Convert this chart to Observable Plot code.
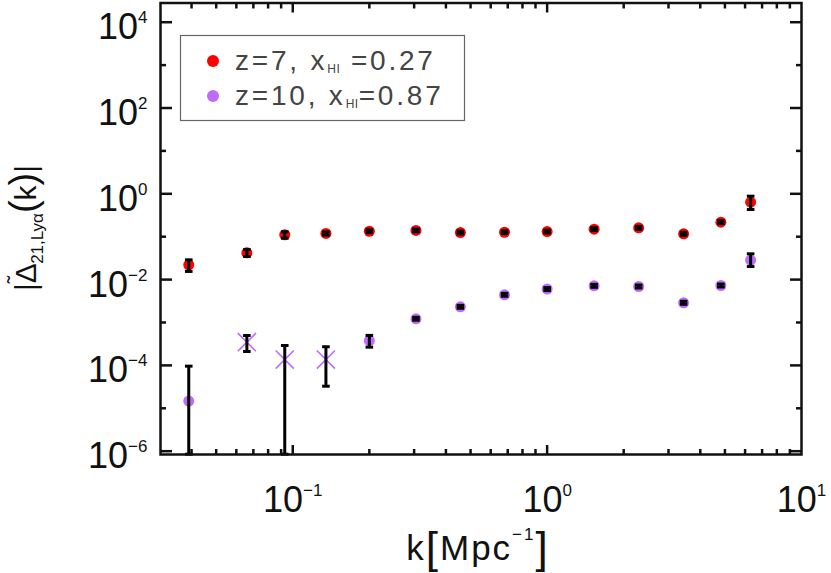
<!DOCTYPE html>
<html><head><meta charset="utf-8">
<script src="https://cdn.jsdelivr.net/npm/d3@7"></script>
<script src="https://cdn.jsdelivr.net/npm/@observablehq/plot@0.6"></script>
<style>body{margin:0;background:#fff} #chart svg{display:block}</style>
</head><body><div id="chart"></div>
<script>
// k bins [Mpc^-1]
const kValues = [0.039, 0.066, 0.093, 0.135, 0.20, 0.305, 0.456, 0.68, 1.0, 1.53, 2.29, 3.44, 4.82, 6.31];
// z=7, x_HI=0.27
const redValues = [0.0221, 0.042, 0.111, 0.119, 0.134, 0.140, 0.125, 0.127, 0.132, 0.150, 0.161, 0.117, 0.218, 0.637];
const redLo     = [0.0155, 0.0345, 0.0923, 0.109, 0.124, 0.130, 0.116, 0.118, 0.122, 0.139, 0.149, 0.108, 0.202, 0.43];
const redHi     = [0.0289, 0.0504, 0.130, 0.129, 0.145, 0.151, 0.135, 0.137, 0.142, 0.162, 0.174, 0.127, 0.236, 0.88];
// z=10, x_HI=0.87
const purpleValues = [1.47e-5, 3.47e-4, 1.37e-4, 1.37e-4, 3.8e-4, 1.22e-3, 2.32e-3, 4.42e-3, 6.0e-3, 7.16e-3, 6.9e-3, 2.88e-3, 7.28e-3, 0.0283];
const purpleLo     = [8.5e-7, 2.11e-4, 8.5e-7, 3.27e-5, 2.66e-4, 1.13e-3, 2.15e-3, 4.09e-3, 5.55e-3, 6.62e-3, 6.38e-3, 2.66e-3, 6.73e-3, 0.0202];
const purpleHi     = [9.6e-5, 4.97e-4, 2.91e-4, 2.72e-4, 5.0e-4, 1.32e-3, 2.51e-3, 4.78e-3, 6.5e-3, 7.75e-3, 7.47e-3, 3.12e-3, 7.88e-3, 0.0399];
const purpleMarker = ["circle", "times", "times", "times", "circle", "circle", "circle", "circle", "circle", "circle", "circle", "circle", "circle", "circle"];

const yTickLabels = [1e-6, 1e-4, 1e-2, 1, 1e2, 1e4];
const yMinorTicks = [1e-5, 1e-3, 1e-1, 10, 1e3];
const xTickLabels = [0.1, 1, 10];
const xMajorTicks = [0.1, 1];
const xMinorTicks = [0.04, 0.05, 0.06, 0.07, 0.08, 0.09, 0.2, 0.3, 0.4, 0.5, 0.6, 0.7, 0.8, 0.9, 2, 3, 4, 5, 6, 7, 8, 9];

const legendItems = [
  {color: "#ff0000", pre: "z=7, x", sub: "HI", post: " =0.27"},
  {color: "#bf6bff", pre: "z=10, x", sub: "HI", post: "=0.87"}
];

const RED = "#ff0000", PURPLE = "#bf6bff";
const red = kValues.map((k, i) => ({k, v: redValues[i], lo: redLo[i], hi: redHi[i]}));
const purple = kValues.map((k, i) => ({k, v: purpleValues[i], lo: purpleLo[i], hi: purpleHi[i], m: purpleMarker[i]}));
const errs = red.concat(purple);

const capSymbol = {draw(ctx, size) { const w = Math.sqrt(size / Math.PI); ctx.moveTo(-w, 0); ctx.lineTo(w, 0); }};
const expFmt = d => "10^" + Math.round(Math.log10(d));

const plot = Plot.plot({
  width: 831, height: 573,
  marginLeft: 160, marginRight: 30, marginTop: 2.5, marginBottom: 119,
  style: {fontFamily: "'Liberation Sans', Arial, sans-serif", fontSize: "36px", color: "#111", background: "white", overflow: "visible"},
  x: {type: "log", domain: [0.0302, 10]},
  y: {type: "log", domain: [8.37e-7, 28050]},
  marks: [
    // tick labels
    Plot.axisY(yTickLabels, {anchor: "left", tickSize: 0, tickPadding: 13, dy: 5.5, tickFormat: expFmt, label: null, fontSize: 36}),
    Plot.axisX(xTickLabels, {anchor: "bottom", tickSize: 0, tickPadding: 32, tickFormat: expFmt, label: null, fontSize: 36}),
    // inward ticks
    Plot.axisY(yTickLabels, {anchor: "left", tickSize: -12, fill: "none", label: null, strokeWidth: 2.5}),
    Plot.axisY(yMinorTicks, {anchor: "left", tickSize: -6, fill: "none", label: null, strokeWidth: 2.5}),
    Plot.axisY(yTickLabels, {anchor: "right", tickSize: -12, fill: "none", label: null, strokeWidth: 2.5}),
    Plot.axisY(yMinorTicks, {anchor: "right", tickSize: -6, fill: "none", label: null, strokeWidth: 2.5}),
    Plot.axisX(xMajorTicks, {anchor: "bottom", tickSize: -9, fill: "none", label: null, strokeWidth: 2.5}),
    Plot.axisX(xMinorTicks, {anchor: "bottom", tickSize: -5, fill: "none", label: null, strokeWidth: 2.5}),
    Plot.axisX(xMajorTicks, {anchor: "top", tickSize: -9, fill: "none", label: null, strokeWidth: 2.5}),
    Plot.axisX(xMinorTicks, {anchor: "top", tickSize: -5, fill: "none", label: null, strokeWidth: 2.5}),
    // data
    Plot.dot(red, {x: "k", y: "v", r: 5.5, fill: RED, stroke: null}),
    Plot.dot(purple.filter(d => d.m === "circle"), {x: "k", y: "v", r: 5.5, fill: PURPLE, stroke: null}),
    Plot.dot(purple.filter(d => d.m === "times"), {x: "k", y: "v", r: 8.3, symbol: "times", stroke: PURPLE, strokeWidth: 1.6}),
    // error bars
    Plot.ruleX(errs, {x: "k", y1: "lo", y2: "hi", stroke: "#000", strokeWidth: 3, clip: true}),
    Plot.dot(errs, {x: "k", y: "hi", r: 3.8, symbol: capSymbol, stroke: "#000", strokeWidth: 3}),
    Plot.dot(errs, {x: "k", y: "lo", r: 3.8, symbol: capSymbol, stroke: "#000", strokeWidth: 3}),
    Plot.frame({stroke: "#111", strokeWidth: 2.5})
  ]
});

const svg = d3.select(plot);
// superscript exponents on tick labels
svg.selectAll('g[aria-label="y-axis tick label"] text, g[aria-label="x-axis tick label"] text').each(function() {
  const t = d3.select(this);
  const s = t.text();
  if (!s.includes("^")) return;
  const [b, e] = s.split("^");
  t.text(null);
  t.append("tspan").text(b);
  t.append("tspan").attr("font-size", 17).attr("dy", -16).text(e.replace("-", "\u2212"));
});

const FONT = "'Liberation Sans', Arial, sans-serif";
// y label
const yl = svg.append("text")
  .attr("transform", "translate(36,228) rotate(-90)")
  .attr("text-anchor", "middle").attr("font-family", FONT).attr("font-size", 30).attr("fill", "#111");
yl.append("tspan").text("|\u0394");
yl.append("tspan").attr("font-size", 22).attr("dx", -20).attr("dy", -13).text("\u02dc");
yl.append("tspan").attr("font-size", 17).attr("dx", 12).attr("dy", 20).text("21,Ly\u03b1");
yl.append("tspan").attr("font-size", 38).attr("dy", -7).text("(");
yl.append("tspan").text("k");
yl.append("tspan").attr("font-size", 38).text(")");
yl.append("tspan").text("|");

// x label
const xl = svg.append("text")
  .attr("x", 478).attr("y", 560)
  .attr("text-anchor", "middle").attr("font-family", FONT).attr("font-size", 35).attr("fill", "#111")
  .attr("letter-spacing", 2);
xl.append("tspan").text("k");
xl.append("tspan").attr("font-size", 44).attr("dy", 3).text("[");
xl.append("tspan").attr("dy", -3).text("Mpc");
xl.append("tspan").attr("font-size", 17).attr("dy", -20).text("\u22121");
xl.append("tspan").attr("font-size", 44).attr("dy", 23).text("]");

// legend
const lg = svg.append("g");
lg.append("rect").attr("x", 180.5).attr("y", 35.5).attr("width", 284).attr("height", 85)
  .attr("fill", "white").attr("stroke", "#666").attr("stroke-width", 1.2);
legendItems.forEach((it, i) => {
  const cy = 61 + i * 35;
  lg.append("circle").attr("cx", 213).attr("cy", cy).attr("r", 6).attr("fill", it.color);
  const t = lg.append("text").attr("x", 235).attr("y", cy + 9).attr("text-anchor", "start")
    .attr("font-family", FONT).attr("font-size", 28).attr("fill", "#444").attr("letter-spacing", 2.8);
  t.append("tspan").text(it.pre);
  t.append("tspan").attr("font-size", 12).attr("dy", 3).attr("letter-spacing", 0.5).text(it.sub);
  t.append("tspan").attr("dy", -3).text(it.post);
});

document.getElementById("chart").appendChild(plot);
</script>
</body></html>
